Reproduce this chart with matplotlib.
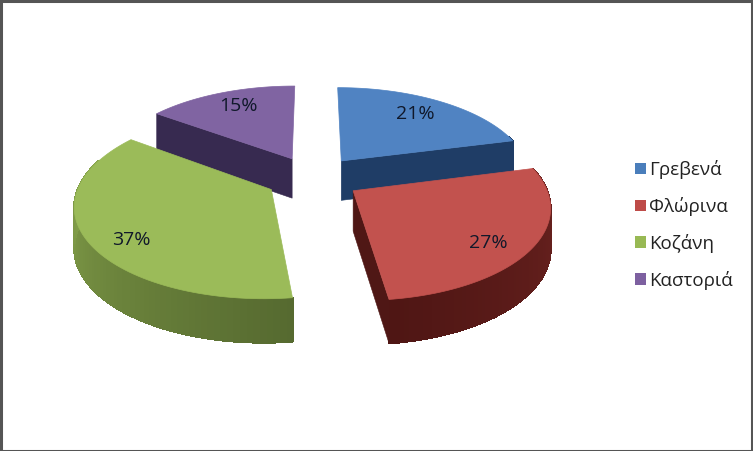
"""
Exploded 3D pie of four regional shares, with a simple perspective projection.
"""

import numpy as np
import matplotlib
matplotlib.use("Agg")
import matplotlib.pyplot as plt
from matplotlib.colors import to_rgb
from matplotlib.patches import Patch, Polygon, Rectangle

names = ["Γρεβενά", "Φλώρινα", "Κοζάνη", "Καστοριά"]
values = [21, 27, 37, 15]
labels = ["21%", "27%", "37%", "15%"]
label_pos = [(415, 114), (488, 243), (131, 240), (238, 106)]

top_colors = ["#5083c2", "#c2524e", "#9bbb59", "#8064a2"]
edge_colors = ["#1f3d66", "#4f1715", "#5d7233", "#372a50"]
wall_start = ["#1f3d66", "#6e2421", "#566a30", "#372a50"]
wall_end = ["#1f3d66", "#4f1614", "#8fae50", "#372a50"]
legend_colors = ["#4a7ebb", "#be4b48", "#98b954", "#7d60a0"]

# projection settings, in pixels of the 753x451 picture
X0, Y0 = 313, 178
RX, RY = 190, 89
PERSP = 0.15
DEPTH = 40
EXPLODE = 0.25


def project(x, y, drop=0.0):
    f = 1 / (1 + PERSP * y)
    return X0 + RX * x * f, Y0 - RY * y * f + drop * np.sqrt(f)


def mix(c0, c1, t):
    c0, c1 = np.array(to_rgb(c0)), np.array(to_rgb(c1))
    return tuple(c0 + (c1 - c0) * t)


fig = plt.figure(figsize=(7.53, 4.51), dpi=100)
ax = fig.add_axes([0, 0, 1, 1])
ax.set_xlim(0, 753)
ax.set_ylim(451, 0)
ax.axis("off")

edges = np.cumsum([0] + values) / sum(values) * 2 * np.pi
slices = []
for i in range(len(values)):
    a0, a1 = edges[i], edges[i + 1]
    mid = (a0 + a1) / 2
    slices.append((i, a0, a1, EXPLODE * np.sin(mid), EXPLODE * np.cos(mid)))

# back slices first, so the front ones cover their walls
for i, a0, a1, ox, oy in sorted(slices, key=lambda s: -s[4]):
    angles = np.linspace(a0, a1, 80)
    rim_x = ox + np.sin(angles)
    rim_y = oy + np.cos(angles)

    # outer wall, cut in small pieces for the shading
    for k in range(len(angles) - 1):
        if np.cos(angles[k]) > 0.3:  # back of the rim, not seen
            continue
        xa, ya = project(rim_x[k:k + 2], rim_y[k:k + 2])
        xb, yb = project(rim_x[k:k + 2], rim_y[k:k + 2], DEPTH)
        pts = np.column_stack([np.r_[xa, xb[::-1]], np.r_[ya, yb[::-1]]])
        color = mix(wall_start[i], wall_end[i], k / (len(angles) - 2))
        ax.add_patch(Polygon(pts, fc=color, ec=color, lw=0.8, zorder=2,
                             antialiased=False))

    # the cut faces, only those turned to the viewer
    for j, visible in ((0, np.sin(a0) < -1e-6), (-1, np.sin(a1) > 1e-6)):
        if not visible:
            continue
        xs = np.array([ox, rim_x[j]])
        ys = np.array([oy, rim_y[j]])
        xa, ya = project(xs, ys)
        xb, yb = project(xs, ys, DEPTH)
        pts = np.column_stack([np.r_[xa, xb[::-1]], np.r_[ya, yb[::-1]]])
        ax.add_patch(Polygon(pts, fc=edge_colors[i], ec=edge_colors[i],
                             lw=0.4, zorder=2))

    # top face
    xs, ys = project(np.r_[ox, rim_x], np.r_[oy, rim_y])
    ax.add_patch(Polygon(np.column_stack([xs, ys]), fc=top_colors[i],
                         ec=top_colors[i], lw=0.5, zorder=2))

for text, (x, y) in zip(labels, label_pos):
    ax.text(x, y, text, ha="center", va="center", fontsize=14,
            family="Open Sans", color="#10182a", zorder=3)

handles = [Patch(fc=c, ec="none") for c in legend_colors]
ax.legend(handles, names, loc="center left", bbox_to_anchor=(618 / 753, 1 - 225 / 451),
          frameon=False, prop={"family": "Open Sans", "size": 13.5},
          handlelength=0.58, handleheight=0.58, handletextpad=0.18,
          labelspacing=0.95, labelcolor="#222222")

# dark frame round the picture
ax.add_patch(Rectangle((0.5, 0.5), 752, 450, fc="none", ec="#555555", lw=2.2,
                       zorder=5, clip_on=True))

fig.savefig("out.png", dpi=100)
